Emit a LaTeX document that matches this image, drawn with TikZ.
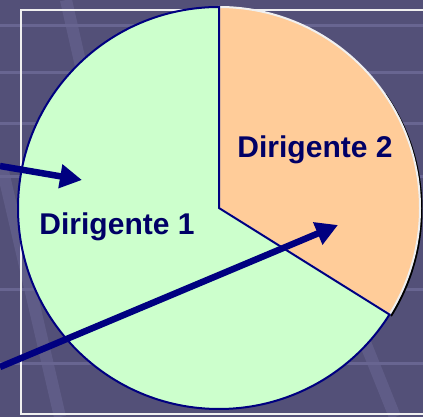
\documentclass[tikz,border=0pt]{standalone}
\usepackage{fontspec}
\setmainfont{Liberation Sans}
\usetikzlibrary{arrows.meta,calc}
\definecolor{bg}{RGB}{83,80,120}
\definecolor{stripe}{RGB}{104,101,145}
\definecolor{navy}{RGB}{0,0,128}
\definecolor{textnavy}{RGB}{0,0,102}
\definecolor{slicegreen}{RGB}{204,255,204}
\definecolor{sliceorange}{RGB}{255,204,153}
\tikzset{
  dirtext/.style={font=\bfseries\fontsize{30}{36}\selectfont, text=textnavy, inner sep=0pt, anchor=base},
  pointer/.style={draw=navy, line width=6.5pt, -{Triangle[length=22pt,width=23pt]}},
}
\begin{document}
\begin{tikzpicture}[x=1pt,y=1pt]
\useasboundingbox (0,0) rectangle (423,417);
% background
\fill[bg] (0,0) rectangle (423,417);
\foreach \y in {391,344,293,240,127,53} {
  \fill[stripe] (0,\y-1.5) rectangle (423,\y+1.5);
}
\foreach \s/\e in {{(66,417)}/{(100,267)}, {(2,250)}/{(60,0)}, {(340,137)}/{(395,0)}} {
  \draw[stripe, opacity=0.6, line width=12pt] \s -- \e;
}
\draw[white!88!gray, line width=2pt] (21,3) rectangle (440,407);
% pie
\coordinate (C) at (219,209);
\coordinate (Top) at (219,410);
\draw[black, line width=2pt] ($(C)+(1.5,-1.5)+(35:201)$) arc[start angle=35, end angle=-32, radius=201];
\filldraw[fill=sliceorange, draw=white!88!gray, line width=2pt] (C) -- (Top) arc[start angle=90, end angle=-32, radius=201] -- cycle;
\filldraw[fill=slicegreen, draw=navy, line width=2pt] (C) -- (Top) arc[start angle=90, end angle=328, radius=201] -- cycle;
\node[dirtext] (D1) at (117,182) {Dirigente 1};
\node[dirtext] (D2) at (315,259) {Dirigente 2};
% arrows
\coordinate (P1) at (0,251);
\coordinate (Q1) at (82,237);
\coordinate (P2) at (0,50);
\coordinate (Q2) at (338,192);
\foreach \a/\b in {P1/Q1, P2/Q2} {
  \draw[pointer] (\a) -- (\b);
}
\end{tikzpicture}
\end{document}
